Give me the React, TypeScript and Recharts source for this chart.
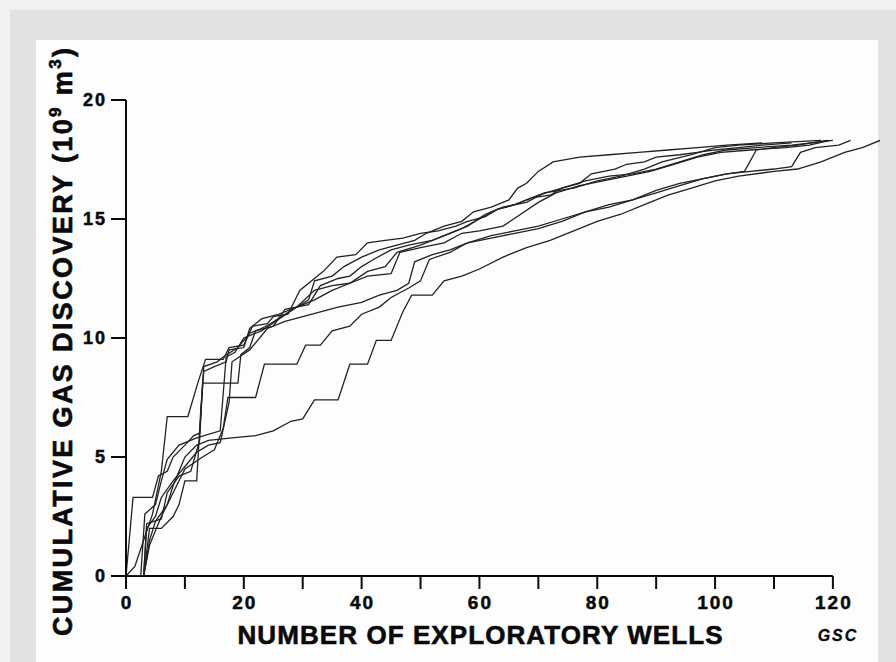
import React from "react";
import { LineChart, Line, XAxis, YAxis, ReferenceLine } from "recharts";

// cumulative gas discovery curves (10^9 m3) vs number of exploratory wells, one per drilling order
const curveA = [
  [0, 0], [1.5, 0.4], [3, 1.5], [4.5, 2.6], [6, 4.4], [7, 6.7], [10.5, 6.7], [12.3, 8.2], [13.5, 9.1], [16.5, 9.1],
  [17.5, 9.6], [20, 9.7], [21.5, 10.5], [24, 10.6], [25, 10.9], [27.5, 11.0], [29.5, 12.0], [31, 12.3], [33.5, 12.8],
  [35.8, 13.4], [39, 13.5], [41, 14.0], [44, 14.1], [47, 14.2], [50, 14.4], [53, 14.5], [56, 14.7], [58, 14.9],
  [61, 15.1], [63, 15.4], [66, 15.6], [69, 15.9], [72, 16.0], [74, 16.3], [77, 16.5], [79, 16.9], [83, 17.1],
  [85, 17.3], [88, 17.4], [90, 17.6], [94, 17.7], [97, 17.8], [100, 17.9], [104, 18.0], [108, 18.1], [113, 18.2],
];
const curveB = [
  [0, 0], [1.2, 3.3], [4.5, 3.3], [5.5, 4.2], [7, 4.4], [8, 5.0], [10, 5.5], [11.5, 5.9], [12.5, 6.0], [13.2, 8.8],
  [15.5, 9.0], [16.5, 9.2], [19, 9.6], [21, 10.2], [23, 10.4], [24.5, 10.6], [27, 11.0], [29, 11.3], [31, 11.6],
  [32, 12.4], [35, 12.6], [37, 13.0], [40, 13.4], [43, 13.7], [46, 13.9], [49, 14.1], [51, 14.4], [54, 14.7],
  [57, 14.9], [59, 15.3], [62, 15.5], [65, 15.8], [66.5, 16.3], [68, 16.5], [70, 17.0], [72.5, 17.4], [77, 17.6],
  [82, 17.7], [87, 17.8], [92, 17.9], [97, 18.0], [102, 18.1], [108, 18.2],
];
const curveC = [
  [0, 0], [3, 0], [3.5, 2.2], [6, 2.4], [7, 3.5], [9, 4.2], [11, 4.4], [12.5, 5.7], [13, 8.1], [19, 8.1],
  [19.5, 9.3], [21, 9.6], [22, 10.3], [25, 10.5], [27, 11.2], [31, 11.4], [33, 12.2], [36, 12.5], [38, 12.6],
  [40, 13.0], [42, 13.3], [45, 13.7], [48, 13.9], [52, 14.1], [55, 14.4], [58, 14.7], [61, 15.2], [64, 15.5],
  [68, 15.7], [71, 16.1], [76, 16.3], [80, 16.6], [84, 16.8], [88, 17.1], [91, 17.4], [96, 17.7], [100, 18.0],
  [104, 18.1], [110, 18.2], [118, 18.3],
];
const curveD = [
  [0, 0], [3, 0], [4, 2.0], [6, 2.0], [8, 2.5], [9, 3.0], [10, 4.0], [12, 4.0], [12.7, 7.0], [13.2, 8.6],
  [15, 8.8], [17, 9.0], [17.5, 9.5], [20, 9.6], [21, 10.4], [23, 10.8], [26, 11.0], [29, 11.3], [32, 12.0],
  [35, 12.2], [38, 12.3], [41, 12.8], [44, 13.0], [46, 13.6], [50, 13.9], [54, 14.3], [57, 14.6], [60, 15.0],
  [63, 15.4], [66, 15.6], [70, 16.0], [74, 16.3], [78, 16.6], [82, 16.8], [86, 16.9], [90, 17.1], [94, 17.4],
  [98, 17.7], [102, 17.9], [107, 18.0], [113, 18.1], [120, 18.3],
];
const curveE = [
  [0, 0], [2.5, 0], [3.2, 2.6], [5, 3.0], [6, 4.0], [7, 4.9], [9, 5.5], [12, 5.8], [16, 6.1], [17, 9.2],
  [18.5, 9.4], [20, 10.0], [23, 10.3], [26, 10.8], [29, 11.3], [32, 11.6], [35, 12.0], [38, 12.3], [41, 12.6],
  [45, 12.7], [46.5, 13.6], [50, 13.8], [54, 14.0], [57, 14.4], [60, 14.5], [64, 14.7], [67, 15.2], [70, 15.7],
  [73, 16.1], [77, 16.4], [81, 16.6], [85, 16.8], [89, 17.0], [93, 17.3], [97, 17.6], [101, 17.8], [106, 17.9],
  [112, 18.0], [116, 18.1], [119.5, 18.3],
];
const curveF = [
  [0, 0], [3, 0], [3.5, 2.0], [5, 2.5], [6, 3.3], [8, 4.0], [10, 4.6], [12, 5.2], [14, 5.5], [16, 5.6],
  [17.5, 7.3], [18, 9.0], [21, 9.5], [24, 10.4], [27, 10.7], [30, 10.9], [33, 11.1], [36, 11.3], [40, 11.5],
  [43, 11.8], [46, 12.0], [48, 12.3], [49, 13.2], [52, 13.5], [55, 13.7], [58, 14.0], [62, 14.2], [66, 14.4],
  [70, 14.6], [74, 14.9], [78, 15.3], [82, 15.6], [86, 15.8], [90, 16.1], [94, 16.4], [98, 16.7], [102, 16.9],
  [105, 17.0], [107, 17.9], [110, 18.0], [114, 18.1], [119, 18.3],
];
const curveG = [
  [0, 0], [3, 0], [4, 1.3], [6, 2.5], [8, 3.5], [10, 4.5], [13, 5.0], [15, 5.3], [16.5, 6.2], [17.3, 7.5],
  [22, 7.5], [23.5, 8.9], [29, 8.9], [30.5, 9.7], [33, 9.7], [35, 10.3], [38, 10.5], [40, 11.0], [43, 11.3],
  [45, 11.7], [48, 12.1], [50, 12.4], [51.5, 13.3], [55, 13.6], [58, 14.0], [62, 14.3], [66, 14.5], [70, 14.7],
  [74, 15.0], [78, 15.3], [82, 15.5], [86, 15.8], [90, 16.2], [94, 16.5], [98, 16.7], [102, 16.9], [106, 17.0],
  [110, 17.1], [113, 17.2], [114.5, 17.8], [117, 18.0], [121, 18.1], [123, 18.3],
];
const curveH = [
  [0, 0], [3, 0], [4, 1.5], [5, 2.3], [7, 3.0], [8, 3.8], [9, 4.4], [10, 5.0], [12, 5.5], [14, 5.7],
  [18, 5.8], [22, 5.9], [25, 6.1], [28, 6.5], [30, 6.6], [31, 7.0], [32, 7.4], [36, 7.4], [38, 8.9], [41, 8.9],
  [42.5, 9.9], [45, 9.9], [47, 11.1], [48.5, 11.8], [52, 11.8], [54, 12.4], [57, 12.6], [60, 12.9], [64, 13.4],
  [68, 13.8], [72, 14.1], [76, 14.5], [80, 14.9], [84, 15.2], [88, 15.6], [92, 16.0], [96, 16.3], [100, 16.6],
  [104, 16.8], [110, 17.0], [114, 17.1], [118, 17.4], [122, 17.8], [125, 18.0], [128, 18.3],
];

const curves = [curveA, curveB, curveC, curveD, curveE, curveF, curveG, curveH];
const xTicks = [0, 10, 20, 30, 40, 50, 60, 70, 80, 90, 100, 110, 120];
const yTicks = [0, 5, 10, 15, 20];

const FONT = '"Liberation Sans", Arial, sans-serif';
const INK = "#0a0a0a";

function XTick(props: any) {
  const { x, y, payload } = props;
  if (payload.value % 20 !== 0) return <g />;
  return (
    <text x={x + 1} y={y + 18} textAnchor="middle" fontFamily={FONT} fontWeight={700} fontSize={19} letterSpacing={2} fill={INK} stroke={INK} strokeWidth={0.5}>
      {payload.value}
    </text>
  );
}

function YTick(props: any) {
  const { x, y, payload } = props;
  return (
    <text x={x} y={y + 6} textAnchor="end" fontFamily={FONT} fontWeight={700} fontSize={18} letterSpacing={2} fill={INK} stroke={INK} strokeWidth={0.5}>
      {payload.value}
    </text>
  );
}

function YTitle() {
  return (
    <text
      x={72}
      y={342}
      transform="rotate(-90, 72, 342)"
      textAnchor="middle"
      fontFamily={FONT}
      fontWeight={700}
      fontSize={27}
      fill={INK}
      stroke={INK}
      strokeWidth={0.6}
      textLength={588}
      lengthAdjust="spacing"
    >
      CUMULATIVE GAS DISCOVERY (10<tspan dy={-11} fontSize={17}>9</tspan>
      <tspan dy={11}> m</tspan>
      <tspan dy={-11} fontSize={17}>3</tspan>
      <tspan dy={11}>)</tspan>
    </text>
  );
}

function XTitle() {
  return (
    <g>
      <text x={480} y={644} textAnchor="middle" fontFamily={FONT} fontWeight={700} fontSize={26} fill={INK} stroke={INK} strokeWidth={0.6} textLength={485} lengthAdjust="spacing">
        NUMBER OF EXPLORATORY WELLS
      </text>
      <text x={838} y={641} textAnchor="middle" fontFamily={FONT} fontWeight={700} fontStyle="italic" fontSize={16} letterSpacing={2} fill={INK} stroke={INK} strokeWidth={0.3}>
        GSC
      </text>
    </g>
  );
}

export default function App() {
  return (
    <div style={{ position: "absolute", left: 0, top: 0, width: 896, height: 662, background: "#f1f1f1", overflow: "hidden" }}>
      <div style={{ position: "absolute", left: 10, top: 10, width: 886, height: 652, background: "#e2e2e2" }} />
      <div style={{ position: "absolute", left: 36, top: 40, width: 842, height: 622, background: "#fdfdfd" }} />
      <div style={{ position: "absolute", left: 0, top: 0 }}>
        <LineChart width={896} height={662} margin={{ top: 100, right: 16, left: 46, bottom: 26 }}>
          <XAxis
            dataKey="x"
            type="number"
            domain={[0, 128]}
            ticks={xTicks}
            axisLine={false}
            tickLine={{ stroke: INK, strokeWidth: 2 }}
            tickSize={13}
            tickMargin={2}
            tick={XTick}
            height={60}
            interval={0}
            allowDataOverflow
            label={{ content: XTitle } as any}
          />
          <YAxis
            type="number"
            domain={[0, 20]}
            ticks={yTicks}
            axisLine={{ stroke: INK, strokeWidth: 2 }}
            tickLine={{ stroke: INK, strokeWidth: 2 }}
            tickSize={15}
            tickMargin={4}
            tick={YTick}
            width={80}
            interval={0}
            allowDataOverflow
            label={{ content: YTitle } as any}
          />
          <ReferenceLine segment={[{ x: 0, y: 0 }, { x: 120, y: 0 }]} stroke={INK} strokeWidth={2} />
          {curves.map((c, i) => (
            <Line
              key={i}
              data={c.map(([x, y]) => ({ x, y }))}
              dataKey="y"
              type="linear"
              stroke="#222222"
              strokeWidth={1.3}
              dot={false}
              activeDot={false}
              isAnimationActive={false}
            />
          ))}
        </LineChart>
      </div>
    </div>
  );
}
